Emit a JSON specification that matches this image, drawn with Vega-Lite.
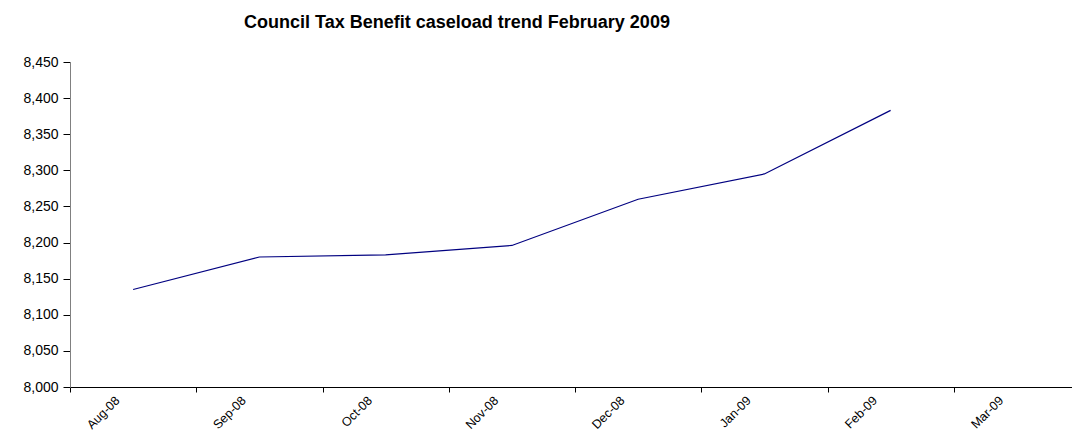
{
  "$schema": "https://vega.github.io/schema/vega-lite/v6.json",
  "autosize": {"type": "none"},
  "width": 1002,
  "height": 325,
  "padding": {"left": 70, "top": 62, "right": 0, "bottom": 45},
  "background": "white",
  "title": {
    "text": "Council Tax Benefit caseload trend February 2009",
    "font": "Liberation Sans",
    "fontSize": 18,
    "fontWeight": "bold",
    "color": "black",
    "anchor": "middle",
    "dx": -114,
    "offset": 23
  },
  "data": {
    "values": [
      {"month": "Aug-08", "caseload": 8135},
      {"month": "Sep-08", "caseload": 8180},
      {"month": "Oct-08", "caseload": 8183},
      {"month": "Nov-08", "caseload": 8196},
      {"month": "Dec-08", "caseload": 8260},
      {"month": "Jan-09", "caseload": 8295},
      {"month": "Feb-09", "caseload": 8383}
    ]
  },
  "mark": {"type": "line", "color": "#000080", "strokeWidth": 1.2, "clip": false},
  "encoding": {
    "x": {
      "field": "month",
      "type": "ordinal",
      "sort": null,
      "bandPosition": 0.5,
      "scale": {
        "type": "band",
        "domain": ["Aug-08", "Sep-08", "Oct-08", "Nov-08", "Dec-08", "Jan-09", "Feb-09", "Mar-09"],
        "range": [0, 1010],
        "paddingInner": 0,
        "paddingOuter": 0
      },
      "axis": {
        "title": null,
        "tickBand": "extent",
        "labelAngle": -45,
        "labelAlign": "right",
        "labelBaseline": "middle",
        "labelOffset": -16,
        "labelPadding": 6,
        "labelFont": "Liberation Sans",
        "labelFontSize": 12.5,
        "labelColor": "black",
        "domainColor": "black",
        "domainWidth": 1,
        "tickColor": "black",
        "tickSize": 5,
        "grid": false
      }
    },
    "y": {
      "field": "caseload",
      "type": "quantitative",
      "scale": {"domain": [8000, 8450], "nice": false, "zero": false},
      "axis": {
        "title": null,
        "values": [8000, 8050, 8100, 8150, 8200, 8250, 8300, 8350, 8400, 8450],
        "format": ",d",
        "labelFont": "Liberation Sans",
        "labelFontSize": 14,
        "labelColor": "black",
        "labelPadding": 5,
        "domainColor": "#808080",
        "domainWidth": 1,
        "tickColor": "black",
        "tickSize": 7,
        "grid": false
      }
    }
  },
  "config": {"view": {"stroke": null}}
}
